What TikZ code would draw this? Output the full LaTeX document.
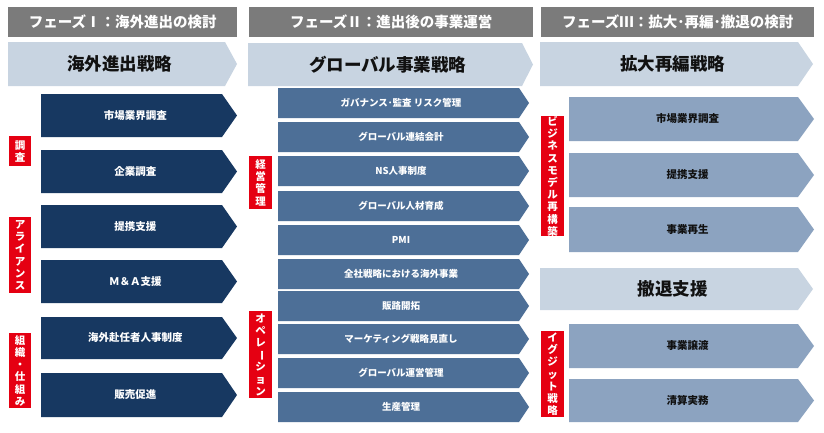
\documentclass[tikz,border=0pt]{standalone}
\usepackage{fontspec}
\setmainfont{Noto Sans CJK JP}
\definecolor{hdr}{HTML}{7B7B7B}
\definecolor{lite}{HTML}{C8D4E1}
\definecolor{navy}{HTML}{173861}
\definecolor{midb}{HTML}{4D6F97}
\definecolor{steel}{HTML}{8CA3C0}
\definecolor{lred}{HTML}{E50012}
\definecolor{ink}{HTML}{111111}
\newcommand\chev[8]{% name x1 y1 x2 y2 depth style text
  \fill[#7] (#2,#3) -- ({#4-#6},#3) -- (#4,{(#3+#5)/2}) -- ({#4-#6},#5) -- (#2,#5) -- cycle;
  \node[#7, fill=none, inner sep=0pt] (#1) at ({(#2+#4-#6/2)/2},{(#3+#5)/2}) {#8};
}
\newcommand\vbar{\rotatebox[origin=c]{-90}{ー}}
\begin{document}
\begin{tikzpicture}[x=1pt,y=-1pt,
  hdrbox/.style={fill=hdr, text=white, font=\bfseries\fontsize{14.5}{17}\selectfont, inner sep=0pt, anchor=north west, minimum height=30pt},
  strat/.style={fill=lite, text=ink, font=\bfseries\fontsize{17.5}{20}\selectfont},
  navyrow/.style={fill=navy, text=white, font=\bfseries\fontsize{10.5}{12}\selectfont},
  midrow/.style={fill=midb, text=white, font=\bfseries\fontsize{9.5}{11}\selectfont},
  steelrow/.style={fill=steel, text=ink, font=\bfseries\fontsize{10.5}{12}\selectfont},
  redlab/.style={fill=lred, text=white, font=\bfseries\fontsize{10.5}{12.2}\selectfont, align=center, inner sep=0pt, anchor=north west}]
\useasboundingbox (0,0) rectangle (824,432);
\fill[white] (0,0) rectangle (824,432);

% headers
\node[hdrbox, minimum width=229pt] (h1) at (8,7) {フェーズⅠ：海外進出の検討};
\node[hdrbox, minimum width=284pt] (h2) at (249,7) {フェーズⅡ：進出後の事業運営};
\node[hdrbox, minimum width=273pt] (h3) at (541,7) {フェーズⅢ：拡大･再編･撤退の検討};

% strategy chevrons
\chev{s1}{8}{42}{237}{86}{12}{strat}{海外進出戦略}
\chev{s2}{248}{43}{533}{86}{11}{strat}{グローバル事業戦略}
\chev{s3}{540}{42}{813}{86}{15}{strat}{拡大再編戦略}
\chev{s4}{540}{268}{813}{310}{15}{strat}{撤退支援}

% phase I rows
\chev{a1}{41}{94}{237}{137}{15}{navyrow}{市場業界調査}
\chev{a2}{41}{150}{237}{193}{15}{navyrow}{企業調査}
\chev{a3}{41}{205}{237}{248}{15}{navyrow}{提携支援}
\chev{a4}{41}{260}{237}{303}{15}{navyrow}{Ｍ＆Ａ支援}
\chev{a5}{41}{317}{237}{359}{15}{navyrow}{海外赴任者人事制度}
\chev{a6}{41}{373}{237}{417}{15}{navyrow}{販売促進}

% phase II rows
\chev{b1}{278}{88}{529}{118}{10}{midrow}{ガバナンス･監査 リスク管理}
\chev{b2}{278}{122}{529}{152}{10}{midrow}{グローバル連結会計}
\chev{b3}{278}{156}{529}{186}{10}{midrow}{NS人事制度}
\chev{b4}{278}{191}{529}{221}{10}{midrow}{グローバル人材育成}
\chev{b5}{278}{225}{529}{255}{10}{midrow}{PMI}
\chev{b6}{278}{259}{529}{289}{10}{midrow}{全社戦略における海外事業}
\chev{b7}{278}{291}{529}{321}{10}{midrow}{販路開拓}
\chev{b8}{278}{324}{529}{354}{10}{midrow}{マーケティング戦略見直し}
\chev{b9}{278}{358}{529}{388}{10}{midrow}{グローバル運営管理}
\chev{b10}{278}{392}{529}{422}{10}{midrow}{生産管理}

% phase III rows
\chev{c1}{569}{97}{814}{141}{16}{steelrow}{市場業界調査}
\chev{c2}{569}{153}{814}{197}{16}{steelrow}{提携支援}
\chev{c3}{569}{207}{814}{252}{16}{steelrow}{事業再生}
\chev{c4}{569}{324}{814}{368}{16}{steelrow}{事業譲渡}
\chev{c5}{569}{379}{814}{422}{16}{steelrow}{清算実務}

% red labels
\node[redlab, minimum width=22pt, minimum height=30pt] (r1) at (9,136) {調\\査};
\node[redlab, minimum width=22pt, minimum height=76pt] (r2) at (9,217) {ア\\ラ\\イ\\ア\\ン\\ス};
\node[redlab, minimum width=22pt, minimum height=75pt] (r3) at (9,333) {組\\織\\・\\仕\\組\\み};
\node[redlab, minimum width=23pt, minimum height=53pt] (r4) at (249,156) {経\\営\\管\\理};
\node[redlab, minimum width=23pt, minimum height=87pt] (r5) at (249,311) {オ\\ペ\\レ\\\vbar\\シ\\ョ\\ン};
\node[redlab, minimum width=23pt, minimum height=120pt] (r6) at (541,116) {ビ\\ジ\\ネ\\ス\\モ\\デ\\ル\\再\\構\\築};
\node[redlab, minimum width=23pt, minimum height=86pt] (r7) at (541,331) {イ\\グ\\ジ\\ッ\\ト\\戦\\略};
\end{tikzpicture}
\end{document}
